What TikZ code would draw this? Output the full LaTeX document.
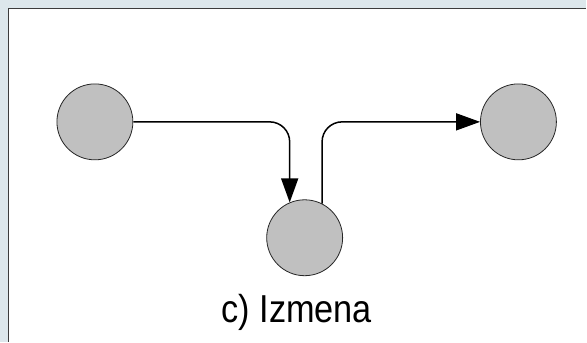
\documentclass[tikz,border=0pt]{standalone}
\usepackage{fontspec}
\newfontfamily\capfont[FakeStretch=0.88]{Liberation Sans}
\usetikzlibrary{arrows.meta}
\definecolor{panelbg}{HTML}{DDE7EC}
\definecolor{framegray}{HTML}{3C3C3C}
\definecolor{dotfill}{HTML}{C0C0C0}

\begin{document}
\begin{tikzpicture}[x=1pt, y=-1pt,
	every node/.style={inner sep=0pt},
	state/.style={circle, draw=black!85, line width=0.8pt, fill=dotfill, minimum size=76pt},
	flow/.style={line width=1.5pt, rounded corners=20pt, -{Triangle[length=24pt, width=17pt]}}]

			% Background and panel
			\fill[panelbg] (0,0) rectangle (587,342);
			\fill[white] (8.5,8.5) rectangle (587,342);
			\draw[framegray, line width=1.3pt] (8.5,342) -- (8.5,8.5) -- (587,8.5);
			\useasboundingbox (0,0) rectangle (587,342);
			% Nodes
			\node[state] (src) at (95,122) {};
			\node[state] (mid) at (305,238) {};
			\node[state] (dst) at (519,122) {};
			% Arrows
			\draw[flow] (src.east) -| (mid.113);
			\draw[flow] (mid.63) |- (dst.west);
			% Caption
			\node[anchor=base, font=\capfont\fontsize{39}{44}\selectfont] (cap) at (297,323) {c) Izmena};
		\end{tikzpicture}
\end{document}
